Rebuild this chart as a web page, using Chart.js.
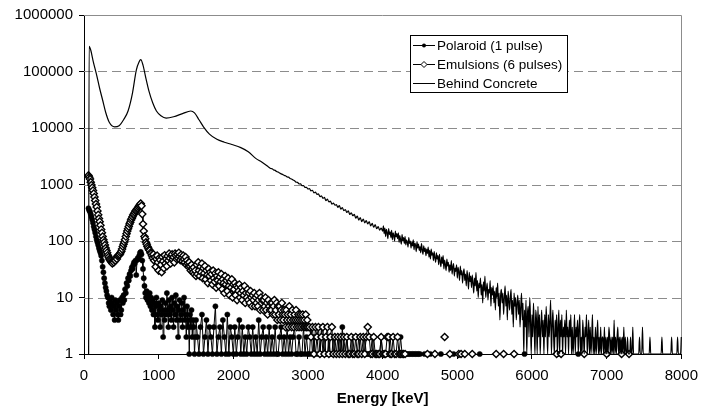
<!DOCTYPE html>
<html>
<head>
<meta charset="utf-8">
<script src="https://cdn.jsdelivr.net/npm/chart.js@4.4.1/dist/chart.umd.min.js"></script>
<style>
  html, body { margin: 0; padding: 0; background: #fff; }
  #wrap { width: 706px; height: 412px; }
</style>
</head>
<body>
<div id="wrap"><canvas id="spectrum" width="706" height="412"></canvas></div>
<script>
// axis ticks
const xTicks = [0, 1000, 2000, 3000, 4000, 5000, 6000, 7000, 8000];
const yTicks = [1, 10, 100, 1000, 10000, 100000, 1000000];

// Polaroid (1 pulse): 10 keV channels from 60 keV, then 20 keV channels from 1520 keV
const polaroidLowStart = 60;
const polaroidLow = [
  380, 350, 330, 300, 270, 240, 210, 180, 160, 140,
  120, 105, 95, 85, 75, 68, 62, 55, 45, 35,
  28, 22, 18, 15, 13, 11, 10, 8, 7, 9,
  6, 10, 8, 5, 7, 4, 9, 6, 8, 5,
  4, 7, 9, 5, 6, 10, 8, 11, 9, 14,
  12, 18, 16, 22, 20, 26, 24, 30, 34, 32,
  38, 42, 40, 45, 25, 46, 50, 48, 55, 62,
  64, 58, 45, 32, 22, 16, 12, 10, 13, 9,
  11, 8, 12, 7, 10, 6, 9, 5, 8, 3,
  7, 10, 5, 4, 8, 6, 3, 7, 5, 9,
  2, 6, 4, 8, 5, 12, 6, 3, 9, 5,
  7, 4, 10, 6, 3, 8, 5, 11, 4, 7,
  2, 6, 9, 4, 5, 8, 3, 6, 10, 4,
  5, 2, 7, 3, 4, 1, 5, 3, 6, 2,
  4, 3, 1, 2, 4
];
const polaroidMidStart = 1520;
const polaroidMid = [
  2, 1, 3, 5, 1, 2, 4, 1, 3, 2,
  1, 3, 7, 1, 2, 3, 1, 4, 2, 1,
  5, 1, 3, 2, 1, 3, 1, 2, 4, 1,
  3, 1, 2, 1, 3, 2, 1, 3, 1, 2,
  1, 4, 1, 2, 3, 1, 2, 1, 3, 1,
  2, 1, 3, 1, 1, 2, 3, 1, 2, 1,
  3, 1, 2, 1, 2, 3, 1, 1, 2, 1,
  1, 3, 1, 2, 1, 1, 3, 1, 2, 1,
  2, 1, 1, 3, 1, 2, 1, 1, 2, 1,
  1, 2, 1, 1, 1, 2, 1, 3, 1, 1,
  2, 1, 1, 1, 2, 1, 1, 1, 2, 1,
  1, 1, 2, 1, 1, 1, 1, 2, 1, 1,
  1, 1, 1, 2, 1, 1, 1, 1, 1, 2,
  1, 1, 1, 1, 1, 1, 2, 1, 1, 1,
  1, 1, 1, 1, 1, 1, 1, 1, 1, 1
];
const polaroidTailKeV = [4560, 4640, 4780, 4950, 5080, 5300, 5900, 6350, 6620, 7010];
const polaroidTail = [1, 1, 1, 1, 1, 1, 1, 1, 1, 1];

// Emulsions (6 pulses): 10 keV channels up to 3000 keV, 20 keV channels to 4300 keV
const emulsionLowStart = 60;
const emulsionLow = [
  1450, 1350, 1250, 1100, 980, 880, 780, 690, 600, 520,
  450, 400, 340, 290, 250, 220, 190, 160, 140, 120,
  105, 95, 85, 75, 68, 62, 56, 52, 48, 46,
  44, 42, 40, 44, 42, 46, 45, 50, 48, 54,
  56, 56, 58, 62, 66, 72, 80, 88, 96, 106,
  120, 135, 150, 165, 180, 200, 215, 235, 250, 270,
  290, 300, 320, 340, 350, 370, 380, 400, 420, 440,
  460, 420, 300, 200, 150, 120, 110, 95, 88, 80,
  75, 70, 68, 62, 60, 55, 50, 58, 45, 52,
  35, 48, 55, 42, 30, 50, 46, 38, 28, 52,
  44, 33, 56, 40, 48, 36, 54, 45, 60, 50,
  40, 55, 58, 47, 52, 42, 60, 55, 48, 58,
  50, 62, 53, 46, 57, 50, 44, 55, 48, 42,
  52, 38, 45, 40, 35, 42, 36, 30, 38, 32,
  28, 34, 26, 30, 24
];
const emulsionMidStart = 1510;
const emulsionMid = [
  38, 26, 42, 30, 24, 35, 28, 40, 22, 33,
  27, 36, 21, 30, 25, 18, 32, 24, 28, 20,
  26, 17, 30, 22, 19, 27, 15, 24, 20, 28,
  16, 23, 19, 26, 14, 21, 18, 12, 24, 17,
  20, 13, 22, 16, 11, 19, 15, 21, 10, 17,
  14, 18, 11, 16, 9, 15, 13, 17, 10, 12,
  15, 9, 13, 11, 16, 8, 12, 10, 14, 9,
  12, 8, 13, 10, 7, 11, 9, 12, 7, 10,
  8, 11, 7, 9, 12, 6, 10, 8, 9, 6,
  9, 7, 10, 6, 8, 5, 9, 7, 6, 8,
  6, 8, 5, 7, 9, 5, 6, 8, 4, 7,
  5, 7, 4, 6, 8, 5, 4, 6, 5, 3,
  6, 4, 5, 3, 7, 4, 5, 3, 6, 4,
  3, 5, 4, 6, 3, 4, 5, 3, 4, 5,
  3, 4, 5, 3, 4, 3, 5, 3, 4, 3
];
const emulsionHighStart = 3020;
const emulsionHigh = [
  3, 2, 3, 1, 3, 2, 3, 1, 2, 3,
  1, 2, 3, 1, 2, 3, 1, 2, 1, 2,
  1, 2, 1, 2, 1, 2, 1, 1, 2, 1,
  1, 2, 1, 1, 2, 1, 2, 1, 2, 3,
  2, 1, 1, 2, 1, 1, 1, 1, 2, 1,
  1, 1, 2, 2, 1, 1, 2, 1, 1, 2,
  1, 1, 1, 1, 1
];
const emulsionTailKeV = [4600, 4700, 4830, 4900, 5020, 5050, 5100, 5200, 5520, 5620, 5760, 6330, 6390, 6700, 7000, 7200, 7300];
const emulsionTail = [1, 1, 2, 1, 1, 1, 1, 1, 1, 1, 1, 1, 1, 1, 1, 1, 1];

// Behind Concrete: smooth low-energy part read point by point
const concreteKeV = [62, 68, 90, 124, 168, 210, 250, 290, 340, 410, 470, 530, 590, 650, 700, 740, 760, 790, 830, 870, 920, 970, 1030, 1100, 1200, 1320, 1430, 1480, 1540, 1600, 1680, 1780, 1880, 1980, 2100, 2200, 2300, 2380, 2460];
const concreteSmooth = [1, 280000, 240000, 150000, 88000, 50000, 31000, 19000, 12500, 10500, 11000, 14000, 20000, 42000, 105000, 150000, 162000, 130000, 75000, 45000, 28000, 20000, 16500, 15000, 15800, 18000, 20000, 18500, 14000, 10500, 7800, 6300, 5600, 5100, 4500, 3800, 2900, 2500, 2100];
// 20 keV channels from 2480 keV
const concreteMidStart = 2480;
const concreteMid = [
  2000, 1920, 1900, 1810, 1780, 1700, 1660,
  1600, 1540, 1510, 1450, 1430, 1360, 1350, 1280, 1250, 1200,
  1170, 1100, 1090, 1020, 1030, 950, 960, 890, 890, 830,
  850, 770, 790, 710, 730, 670, 680, 610, 630, 570,
  590, 520, 550, 490, 510, 450, 470, 430, 440, 395,
  425, 365, 390, 345, 360, 320, 340, 295, 315, 280,
  295, 255, 275, 235, 260, 220, 245, 210, 230, 200,
  220, 185, 205, 175, 195, 165, 180, 155, 170
];
// 10 keV channels from 4000 keV
const concreteTailStart = 4000;
const concreteTail = [
  150, 185, 135, 170, 120, 160, 140, 110, 165, 130,
  145, 115, 155, 105, 140, 125, 100, 150, 118, 135,
  110, 140, 95, 125, 105, 88, 130, 100, 115, 90,
  120, 85, 105, 95, 78, 115, 90, 100, 75, 95,
  82, 105, 70, 92, 85, 65, 98, 75, 88, 68,
  80, 62, 90, 70, 58, 82, 65, 75, 55, 72,
  60, 78, 52, 68, 48, 72, 56, 62, 45, 65,
  50, 42, 62, 48, 55, 38, 58, 44, 35, 52,
  40, 55, 32, 46, 38, 30, 48, 36, 42, 28,
  38, 30, 45, 26, 35, 40, 24, 33, 29, 38,
  22, 34, 28, 20, 36, 25, 30, 18, 27, 32,
  20, 26, 16, 30, 22, 14, 28, 19, 24, 15,
  25, 18, 12, 22, 16, 28, 13, 20, 10, 18,
  15, 22, 11, 17, 8, 19, 13, 24, 10, 14,
  18, 9, 14, 12, 20, 7, 15, 11, 16, 8,
  13, 6, 15, 10, 18, 7, 12, 4, 11, 14,
  8, 12, 5, 10, 16, 7, 11, 4, 13, 9,
  6, 10, 14, 5, 9, 3, 12, 7, 10, 4,
  8, 11, 5, 9, 3, 7, 12, 4, 8, 1,
  6, 3, 9, 1, 5, 7, 2, 10, 4, 1,
  5, 2, 8, 3, 1, 6, 4, 1, 7, 2,
  5, 1, 3, 6, 2, 4, 1, 5, 2, 7,
  3, 1, 5, 2, 4, 9, 1, 3, 6, 2,
  1, 4, 2, 5, 1, 3, 6, 1, 4, 2,
  5, 1, 3, 2, 4, 1, 6, 2, 3, 1,
  4, 2, 5, 1, 3, 1, 2, 5, 1, 3,
  2, 4, 1, 3, 5, 1, 2, 1, 4, 2,
  1, 3, 2, 5, 1, 2, 4, 1, 3, 1,
  2, 5, 1, 2, 1, 3, 1, 2, 4, 1,
  2, 1, 3, 1, 2, 2, 1, 3, 1, 2,
  1, 2, 1, 3, 2, 1, 2, 1, 2, 1,
  4, 1, 2, 1, 2, 3, 1, 2, 1, 2,
  1, 2, 1, 3, 1, 2, 1, 1, 2, 1,
  1, 1, 2, 1, 1, 3, 1, 1, 1, 1,
  1, 1, 1, 1, 2, 1, 1, 1, 3, 1,
  1, 1, 1, 1, 1, 1, 1, 1, 2, 1,
  1, 1, 1, 1, 1, 1, 1, 1, 1, 1,
  1, 1, 1, 1, 2, 1, 1, 1, 1, 1,
  1, 1, 1, 1, 1, 1, 1, 2, 1, 1,
  1, 1, 1, 1, 1, 2, 1, 1, 1, 1,
  2
];

const seriesNames = ['Polaroid (1 pulse)', 'Emulsions (6 pulses)', 'Behind Concrete'];

const channels = (start, step, counts) => counts.map((c, i) => ({ x: start + i * step, y: c }));
const pairs = (keV, counts) => keV.map((e, i) => ({ x: e, y: counts[i] }));

// empty channels in the original leave gaps in the line
const gapSegment = { borderColor: ctx => (ctx.p1.parsed.x - ctx.p0.parsed.x > 60 ? 'rgba(0,0,0,0)' : undefined) };

const FONT = '"Liberation Sans", Arial, Helvetica, sans-serif';
Chart.defaults.font.family = FONT;
Chart.defaults.color = '#000';

// dashed gridlines and grey plot frame
const framePlugin = {
  id: 'frame',
  beforeDatasetsDraw(chart) {
    const { ctx, chartArea: a, scales: { y } } = chart;
    ctx.save();
    ctx.strokeStyle = '#8c8c8c';
    ctx.lineWidth = 1;
    ctx.setLineDash([9, 5]);
    yTicks.slice(1, -1).forEach(v => {
      const py = Math.round(y.getPixelForValue(v)) + 0.5;
      ctx.beginPath();
      ctx.moveTo(a.left, py);
      ctx.lineTo(a.right, py);
      ctx.stroke();
    });
    ctx.setLineDash([]);
    const top = Math.round(y.getPixelForValue(yTicks[yTicks.length - 1])) + 0.5;
    const right = Math.round(a.right) + 0.5;
    ctx.beginPath();
    ctx.moveTo(a.left, top);
    ctx.lineTo(right, top);
    ctx.lineTo(right, a.bottom);
    ctx.stroke();
    ctx.restore();
  }
};

// boxed legend inside the plot area
const legendPlugin = {
  id: 'boxLegend',
  afterDatasetsDraw(chart) {
    const { ctx } = chart;
    const bx = 410.5, by = 35.5, bw = 157, bh = 57;
    ctx.save();
    ctx.fillStyle = '#fff';
    ctx.fillRect(bx, by, bw, bh);
    ctx.strokeStyle = '#000';
    ctx.lineWidth = 1;
    ctx.strokeRect(bx, by, bw, bh);
    ctx.font = '13.5px ' + FONT;
    ctx.textBaseline = 'middle';
    seriesNames.forEach((name, i) => {
      const ry = 45.5 + i * 19;
      ctx.strokeStyle = '#000';
      ctx.lineWidth = 1;
      ctx.beginPath();
      ctx.moveTo(413, ry);
      ctx.lineTo(435, ry);
      ctx.stroke();
      if (i === 0) {
        ctx.fillStyle = '#000';
        ctx.beginPath();
        ctx.arc(424, ry, 2, 0, Math.PI * 2);
        ctx.fill();
      } else if (i === 1) {
        ctx.fillStyle = '#fff';
        ctx.beginPath();
        ctx.moveTo(424, ry - 3);
        ctx.lineTo(427, ry);
        ctx.lineTo(424, ry + 3);
        ctx.lineTo(421, ry);
        ctx.closePath();
        ctx.fill();
        ctx.stroke();
      }
      ctx.fillStyle = '#000';
      ctx.fillText(name, 437, ry + 0.5);
    });
    ctx.restore();
  }
};

new Chart(document.getElementById('spectrum'), {
  type: 'line',
  data: {
    datasets: [
      {
        label: seriesNames[0],
        data: channels(polaroidLowStart, 10, polaroidLow)
          .concat(channels(polaroidMidStart, 20, polaroidMid))
          .concat(pairs(polaroidTailKeV, polaroidTail)),
        borderColor: '#000',
        borderWidth: 1,
        pointStyle: 'circle',
        pointRadius: 2.6,
        pointBackgroundColor: '#000',
        pointBorderColor: '#000',
        pointBorderWidth: 0.5,
        segment: gapSegment,
        order: 3,
        clip: false
      },
      {
        label: seriesNames[1],
        data: channels(emulsionLowStart, 10, emulsionLow)
          .concat(channels(emulsionMidStart, 10, emulsionMid))
          .concat(channels(emulsionHighStart, 20, emulsionHigh))
          .concat(pairs(emulsionTailKeV, emulsionTail)),
        borderColor: '#000',
        borderWidth: 1,
        pointStyle: 'rectRot',
        pointRadius: 3.6,
        pointBackgroundColor: '#fff',
        pointBorderColor: '#000',
        pointBorderWidth: 1.4,
        segment: gapSegment,
        order: 2,
        clip: false
      },
      {
        label: seriesNames[2],
        data: pairs(concreteKeV, concreteSmooth)
          .concat(channels(concreteMidStart, 20, concreteMid))
          .concat(channels(concreteTailStart, 10, concreteTail)),
        borderColor: '#000',
        borderWidth: 1.2,
        pointRadius: 0,
        cubicInterpolationMode: 'monotone',
        order: 1,
        clip: false
      }
    ]
  },
  options: {
    responsive: false,
    animation: false,
    events: [],
    layout: { padding: { left: 0, right: 18, top: 14, bottom: 0 } },
    plugins: {
      legend: { display: false },
      tooltip: { enabled: false }
    },
    scales: {
      x: {
        type: 'linear',
        min: xTicks[0],
        max: xTicks[xTicks.length - 1],
        afterBuildTicks: scale => { scale.ticks = xTicks.map(v => ({ value: v })); },
        afterFit: scale => { scale.height = 58; },
        grid: { drawOnChartArea: false, tickLength: 5, color: '#000' },
        border: { color: '#000', width: 1 },
        ticks: { font: { size: 15 }, padding: 8, maxRotation: 0, callback: v => String(v) },
        title: {
          display: true,
          text: 'Energy [keV]',
          font: { size: 15, weight: 'bold' },
          padding: { top: 0, bottom: 4 }
        }
      },
      y: {
        type: 'logarithmic',
        min: yTicks[0],
        max: yTicks[yTicks.length - 1],
        afterBuildTicks: scale => { scale.ticks = yTicks.map(v => ({ value: v })); },
        afterFit: scale => { scale.width = 84; },
        grid: { drawOnChartArea: false, tickLength: 5, color: '#000' },
        border: { color: '#000', width: 1 },
        ticks: { font: { size: 15 }, padding: 6, callback: v => String(v) }
      }
    }
  },
  plugins: [framePlugin, legendPlugin]
});
</script>
</body>
</html>
